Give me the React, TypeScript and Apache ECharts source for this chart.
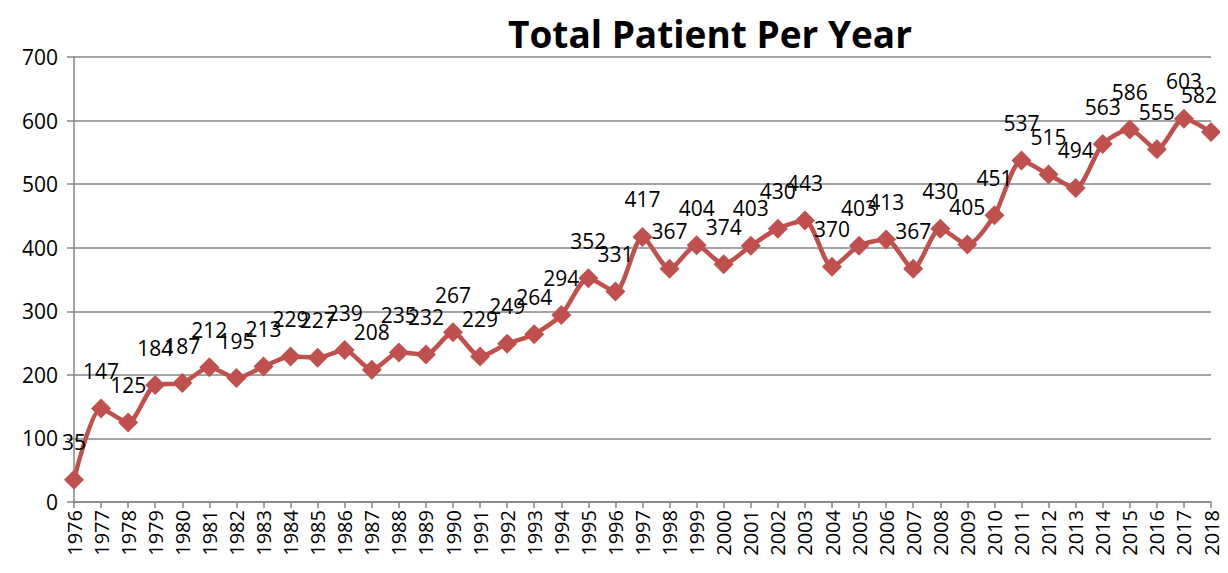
import React, { useEffect, useRef } from "react";
import * as echarts from "echarts";

const years = [
  "1976","1977","1978","1979","1980","1981","1982","1983","1984","1985","1986","1987","1988","1989","1990","1991","1992","1993","1994","1995","1996","1997","1998","1999","2000","2001","2002","2003","2004","2005","2006","2007","2008","2009","2010","2011","2012","2013","2014","2015","2016","2017","2018",
];
const patients = [
  35,147,125,184,187,212,195,213,229,227,239,208,235,232,267,229,249,264,294,352,331,417,367,404,374,403,430,443,370,403,413,367,430,405,451,537,515,494,563,586,555,603,582,
];
const title = "Total Patient Per Year";

export default function App() {
  const ref = useRef<HTMLDivElement>(null);
  useEffect(() => {
    if (!ref.current) return;
    const chart = echarts.init(ref.current, null, { renderer: "svg" });
    const font = "'Open Sans', 'Liberation Sans', sans-serif";
    const seriesData = patients.map((v, i) =>
      i === patients.length - 1 ? { value: v, label: { offset: [-12, 0] } } : v
    );
    chart.setOption({
      animation: false,
      backgroundColor: "#ffffff",
      title: {
        text: title,
        left: 697,
        textAlign: "center",
        top: 2,
        textStyle: { fontSize: 37, fontWeight: "bold", color: "#000", fontFamily: font },
      },
      grid: { left: 66, right: 17, top: 49, bottom: 63, containLabel: false },
      xAxis: {
        type: "category",
        data: years,
        boundaryGap: false,
        axisLine: { lineStyle: { color: "#868686", width: 1.5 } },
        axisTick: { show: true, length: 6, interval: 0, alignWithLabel: true, lineStyle: { color: "#868686", width: 1.5 } },
        axisLabel: { interval: 0, rotate: 90, fontSize: 20, color: "#000", fontFamily: font, margin: 8 },
      },
      yAxis: {
        type: "value",
        min: 0,
        max: 700,
        interval: 100,
        axisLine: { show: true, lineStyle: { color: "#868686", width: 1.5 } },
        axisTick: { show: true, length: 7, lineStyle: { color: "#868686", width: 1.5 } },
        splitLine: { lineStyle: { color: "#868686", width: 1.5 } },
        axisLabel: { fontSize: 21, color: "#000", fontFamily: font, margin: 16 },
      },
      series: [
        {
          type: "line",
          data: seriesData,
          smooth: 0.25,
          symbol: "diamond",
          symbolSize: 20,
          itemStyle: { color: "#C0504D" },
          lineStyle: { color: "#C0504D", width: 4.5 },
          label: {
            show: true,
            position: "top",
            distance: 17,
            fontSize: 21,
            color: "#000",
            fontFamily: font,
          },
        },
      ],
    });
    return () => chart.dispose();
  }, []);
  return <div ref={ref} style={{ width: 1220, height: 557 }} />;
}
